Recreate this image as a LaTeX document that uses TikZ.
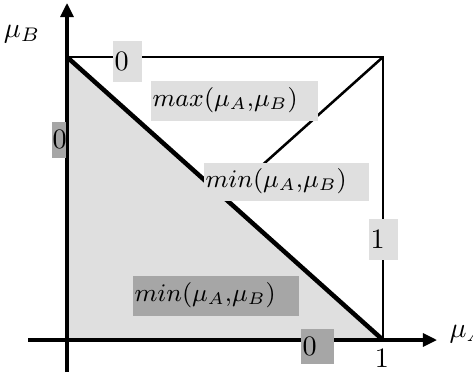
\documentclass[tikz,border=0pt]{standalone}
\usetikzlibrary{arrows.meta,calc}
\definecolor{lightgr}{HTML}{DFDFDF}
\definecolor{darkgr}{HTML}{A6A6A6}
\newcommand{\pxl}{0.3557pt}
\newcommand{\opmu}[1]{$#1(\mu_A{,}\mu_B)$}
\tikzset{
	lbl/.style={anchor=north west, align=left, inner xsep=2*\pxl, inner ysep=0pt},
	lightlbl/.style={lbl, fill=lightgr},
	darklbl/.style={lbl, fill=darkgr},
	oplbl/.style={font=\small},
	axis/.style={line width=1.1pt, -{Triangle[length=5pt,width=4.6pt]}}
}
\begin{document}
\begin{tikzpicture}[x=0.0125cm, y=-0.0125cm]
		\useasboundingbox (0,0) rectangle (473,376);
		% Esquinas del cuadrado unidad
		\coordinate (tl) at (67,57);
		\coordinate (tr) at (383,57);
		\coordinate (br) at (383,340);
		\coordinate (orig) at (67,340);
		\coordinate (mid) at ($(tl)!0.5!(br)$);
		\coordinate (xend) at (437,340);
		\coordinate (xstart) at (28,340);
		\coordinate (yend) at (67,3);
		\coordinate (ystart) at (67,372);
		% Zona sombreada bajo la diagonal
		\fill[lightgr] (tl) -- (orig) -- (br) -- cycle;
		% Cuadrado y diagonales
		\draw[line width=0.75pt] (tl) rectangle (br);
		\draw[line width=1.6pt] (tl) -- (br);
		\draw[line width=0.9pt] (tr) -- (mid);
		% Ejes
		\draw[axis] (xstart) -- (xend);
		\draw[axis] (ystart) -- (yend);
		% Etiquetas con fondo
		\node[lightlbl, text width=25*\pxl, minimum height=41*\pxl] (topzero) at (112,40) {0};
		\node[darklbl, inner xsep=1*\pxl, text width=12*\pxl, minimum height=36*\pxl] (leftzero) at (51,121) {0};
		\node[lightlbl, oplbl, text width=163*\pxl, minimum height=40*\pxl] (maxlbl) at (150,80) {\opmu{max}};
		\node[lightlbl, oplbl, text width=161*\pxl, minimum height=38*\pxl] (minup) at (203,162) {\opmu{min}};
		\node[lightlbl, text width=25*\pxl, minimum height=41*\pxl] (rightone) at (368,218) {1};
		\node[darklbl, oplbl, text width=162*\pxl, minimum height=40*\pxl] (minlow) at (132,275) {\opmu{min}};
		\node[darklbl, text width=29*\pxl, minimum height=35*\pxl] (botzero) at (300,328) {0};
		% Etiquetas sueltas
		\node (cornerone) at (382,358) {1};
		\node (muB) at (22,34) {$\mu_B$};
		\node[anchor=west, inner sep=0pt] (muA) at (449,334) {$\mu_A$};
	\end{tikzpicture}
\end{document}
